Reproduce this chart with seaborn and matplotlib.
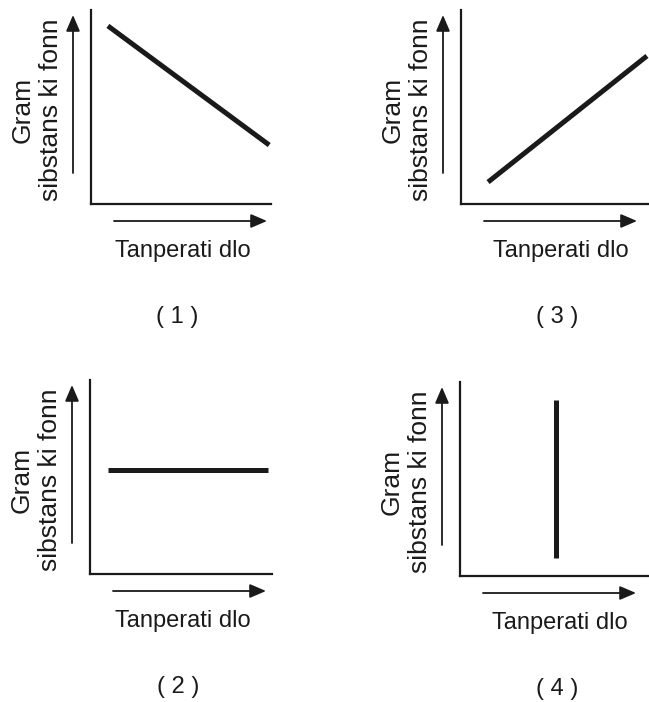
import matplotlib
matplotlib.use("Agg")
import matplotlib.pyplot as plt
from matplotlib.patches import FancyArrowPatch
import seaborn as sns
import pandas as pd

# values (axes run 0..10 on both directions)
panel_names = ["( 1 )", "( 3 )", "( 2 )", "( 4 )"]
x_label = "Tanperati dlo"
y_label = "Gram\nsibstans ki fonn"

temp_1 = [0.94, 9.90]
mass_1 = [9.18, 3.04]
temp_3 = [1.44, 9.89]
mass_3 = [1.13, 7.63]
temp_2 = [1.00, 9.78]
mass_2 = [5.36, 5.36]
temp_4 = [5.08, 5.08]
mass_4 = [0.93, 9.07]

series = [(temp_1, mass_1), (temp_3, mass_3), (temp_2, mass_2), (temp_4, mass_4)]

sns.set_style("white")
plt.rcParams["font.family"] = ["Liberation Sans", "DejaVu Sans"]

W, H = 649, 702
fig = plt.figure(figsize=(W / 100, H / 100), dpi=100)

ink = "#1a1a1a"

def fx(x):
    return x / W

def fy(y):
    return 1 - y / H

# panel boxes in pixels: left spine x, top y, width, height, label x, number x
layout = [
    (91, 10, 180, 194, 183, 177),
    (461, 10, 188, 194, 561, 557),
    (90, 380, 182, 194, 183, 178),
    (460, 382, 189, 194, 560, 557),
]

for (left, top, w, h, lab_x, num_x), name, (xs, ys) in zip(layout, panel_names, series):
    ax = fig.add_axes([fx(left), fy(top + h), w / W, h / H])
    df = pd.DataFrame({"temp": xs, "mass": ys})
    sns.lineplot(data=df, x="temp", y="mass", ax=ax, color=ink, linewidth=3.6,
                 estimator=None, sort=False, solid_capstyle="butt", clip_on=False)
    ax.set_xlim(0, 10)
    ax.set_ylim(0, 10)
    ax.set_xticks([])
    ax.set_yticks([])
    ax.set_xlabel("")
    ax.set_ylabel("")
    for side in ["top", "right"]:
        ax.spines[side].set_visible(False)
    for side in ["left", "bottom"]:
        ax.spines[side].set_color(ink)
        ax.spines[side].set_linewidth(1.6)

    bottom = top + h
    arrow = dict(arrowstyle="-|>,head_length=0.7,head_width=0.3",
                 mutation_scale=14, color=ink, lw=1.3, shrinkA=0, shrinkB=0)
    # y direction arrow
    fig.add_artist(FancyArrowPatch(
        (fx(left - 18), fy(top + 163)), (fx(left - 18), fy(top + 5)),
        transform=fig.transFigure, **arrow))
    # x direction arrow
    fig.add_artist(FancyArrowPatch(
        (fx(left + 23), fy(bottom + 17)), (fx(left + 176), fy(bottom + 17)),
        transform=fig.transFigure, **arrow))

    fig.text(fx(left - 54), fy(top + 100), y_label, rotation=90, ha="center",
             va="center", multialignment="center", fontsize=19,
             linespacing=1.2, color=ink)
    fig.text(fx(lab_x), fy(bottom + 47), x_label, ha="center", va="center",
             fontsize=17, color=ink)
    fig.text(fx(num_x), fy(bottom + 113), name, ha="center", va="center",
             fontsize=17, color=ink)

fig.savefig("out.png", dpi=100)
